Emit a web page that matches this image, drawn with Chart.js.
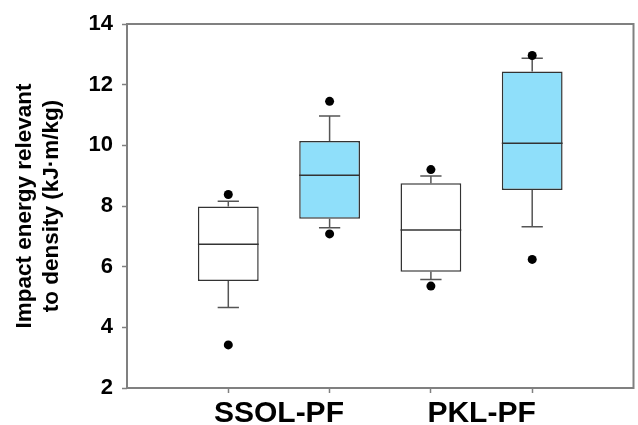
<!DOCTYPE html>
<html>
<head>
<meta charset="utf-8">
<script src="https://cdn.jsdelivr.net/npm/chart.js@4/dist/chart.umd.min.js"></script>
<style>
  html, body { margin: 0; padding: 0; background: #fff; }
  #wrap { width: 638px; height: 425px; position: relative; }
</style>
</head>
<body>
<div id="wrap"><canvas id="boxChart"></canvas></div>
<script>
// values
const categories = ['SSOL-PF', 'PKL-PF'];
const boxPos   = [1, 2, 3, 4];
const whiskLo  = [4.65, 7.28, 5.58, 7.32];
const q1       = [5.53, 7.58, 5.83, 8.53];
const median   = [6.74, 9.01, 7.21, 10.07];
const q3       = [7.98, 10.14, 8.75, 12.43];
const whiskHi  = [8.16, 10.97, 8.99, 12.87];
const outLo    = [3.42, 7.08, 5.36, 6.24];
const outHi    = [8.38, 11.45, 9.20, 12.96];
const yTicks   = [2, 4, 6, 8, 10, 12, 14];

const labelPos = [(boxPos[0] + boxPos[1]) / 2, (boxPos[2] + boxPos[3]) / 2];
const fills = ['#ffffff', '#8fdffa', '#ffffff', '#8fdffa'];
const capHalf = 0.105;

const boxPlugin = {
    id: 'boxParts',
    beforeDatasetsDraw(chart) {
        const { ctx, chartArea: a, scales: { x, y } } = chart;
        ctx.save();
        // frame
        ctx.strokeStyle = '#808080';
        ctx.lineWidth = 2;
        ctx.strokeRect(a.left, a.top, a.right - a.left, a.bottom - a.top);
        // whiskers
        ctx.strokeStyle = '#555555';
        ctx.lineWidth = 1.5;
        boxPos.forEach((p, i) => {
            const px = x.getPixelForValue(p);
            const cl = x.getPixelForValue(p - capHalf);
            const cr = x.getPixelForValue(p + capHalf);
            ctx.beginPath();
            ctx.moveTo(px, y.getPixelForValue(q3[i]));
            ctx.lineTo(px, y.getPixelForValue(whiskHi[i]));
            ctx.moveTo(cl, y.getPixelForValue(whiskHi[i]));
            ctx.lineTo(cr, y.getPixelForValue(whiskHi[i]));
            ctx.moveTo(px, y.getPixelForValue(q1[i]));
            ctx.lineTo(px, y.getPixelForValue(whiskLo[i]));
            ctx.moveTo(cl, y.getPixelForValue(whiskLo[i]));
            ctx.lineTo(cr, y.getPixelForValue(whiskLo[i]));
            ctx.stroke();
        });
        ctx.restore();
    },
    afterDatasetsDraw(chart) {
        const { ctx, scales: { y } } = chart;
        const bars = chart.getDatasetMeta(0).data;
        ctx.save();
        ctx.strokeStyle = '#333333';
        ctx.lineWidth = 1.5;
        bars.forEach((bar, i) => {
            const py = y.getPixelForValue(median[i]);
            ctx.beginPath();
            ctx.moveTo(bar.x - bar.width / 2, py);
            ctx.lineTo(bar.x + bar.width / 2, py);
            ctx.stroke();
        });
        ctx.restore();
    }
};

new Chart(document.getElementById('boxChart'), {
    type: 'bar',
    data: {
        datasets: [
            {
                label: 'box',
                data: boxPos.map((p, i) => ({ x: p, y: [q1[i], q3[i]] })),
                backgroundColor: fills,
                borderColor: '#333333',
                borderWidth: 1.5,
                borderSkipped: false,
                // tick spacing is half a box step (label ticks sit in between), so 1.2 -> 0.6 of a step
                barPercentage: 1.2,
                categoryPercentage: 1
            },
            {
                type: 'scatter',
                label: 'outliers',
                data: boxPos.flatMap((p, i) => [{ x: p, y: outLo[i] }, { x: p, y: outHi[i] }]),
                backgroundColor: '#000000',
                borderWidth: 0,
                pointRadius: 4.5
            }
        ]
    },
    options: {
        responsive: true,
        maintainAspectRatio: false,
        animation: false,
        layout: { padding: { top: 24, right: 3, left: 0, bottom: 0 } },
        plugins: { legend: { display: false }, tooltip: { enabled: false } },
        scales: {
            x: {
                type: 'linear',
                min: 0,
                max: 5,
                offset: false,
                border: { display: false },
                grid: {
                    offset: false,
                    drawOnChartArea: false,
                    tickLength: 5,
                    tickWidth: 1.5,
                    tickColor: c => (c.tick && Number.isInteger(c.tick.value)) ? '#808080' : 'rgba(0,0,0,0)'
                },
                afterBuildTicks: s => {
                    s.ticks = boxPos.concat(labelPos).sort((a, b) => a - b).map(v => ({ value: v }));
                },
                afterFit: s => { s.height = 37; },
                ticks: {
                    autoSkip: false,
                    maxRotation: 0,
                    padding: 3,
                    color: '#000',
                    font: { family: 'Liberation Sans, Arial, sans-serif', size: 30, weight: 'bold' },
                    callback: v => {
                        const k = labelPos.indexOf(v);
                        return k >= 0 ? categories[k] : '';
                    }
                }
            },
            y: {
                min: 2,
                max: 14,
                border: { display: false },
                grid: {
                    drawOnChartArea: false,
                    tickLength: 5,
                    tickWidth: 1.5,
                    tickColor: '#808080'
                },
                afterBuildTicks: s => { s.ticks = yTicks.map(v => ({ value: v })); },
                afterFit: s => { s.width = 127; },
                ticks: {
                    padding: 9,
                    color: '#000',
                    font: { family: 'Liberation Sans, Arial, sans-serif', size: 22, weight: 'bold' }
                },
                title: {
                    display: true,
                    text: ['Impact energy relevant', 'to density (kJ\u00b7m/kg)'],
                    color: '#000',
                    padding: { top: 11, bottom: 0 },
                    font: { family: 'Liberation Sans, Arial, sans-serif', size: 22.5, weight: 'bold', lineHeight: 1.22 }
                }
            }
        }
    },
    plugins: [boxPlugin]
});
</script>
</body>
</html>
